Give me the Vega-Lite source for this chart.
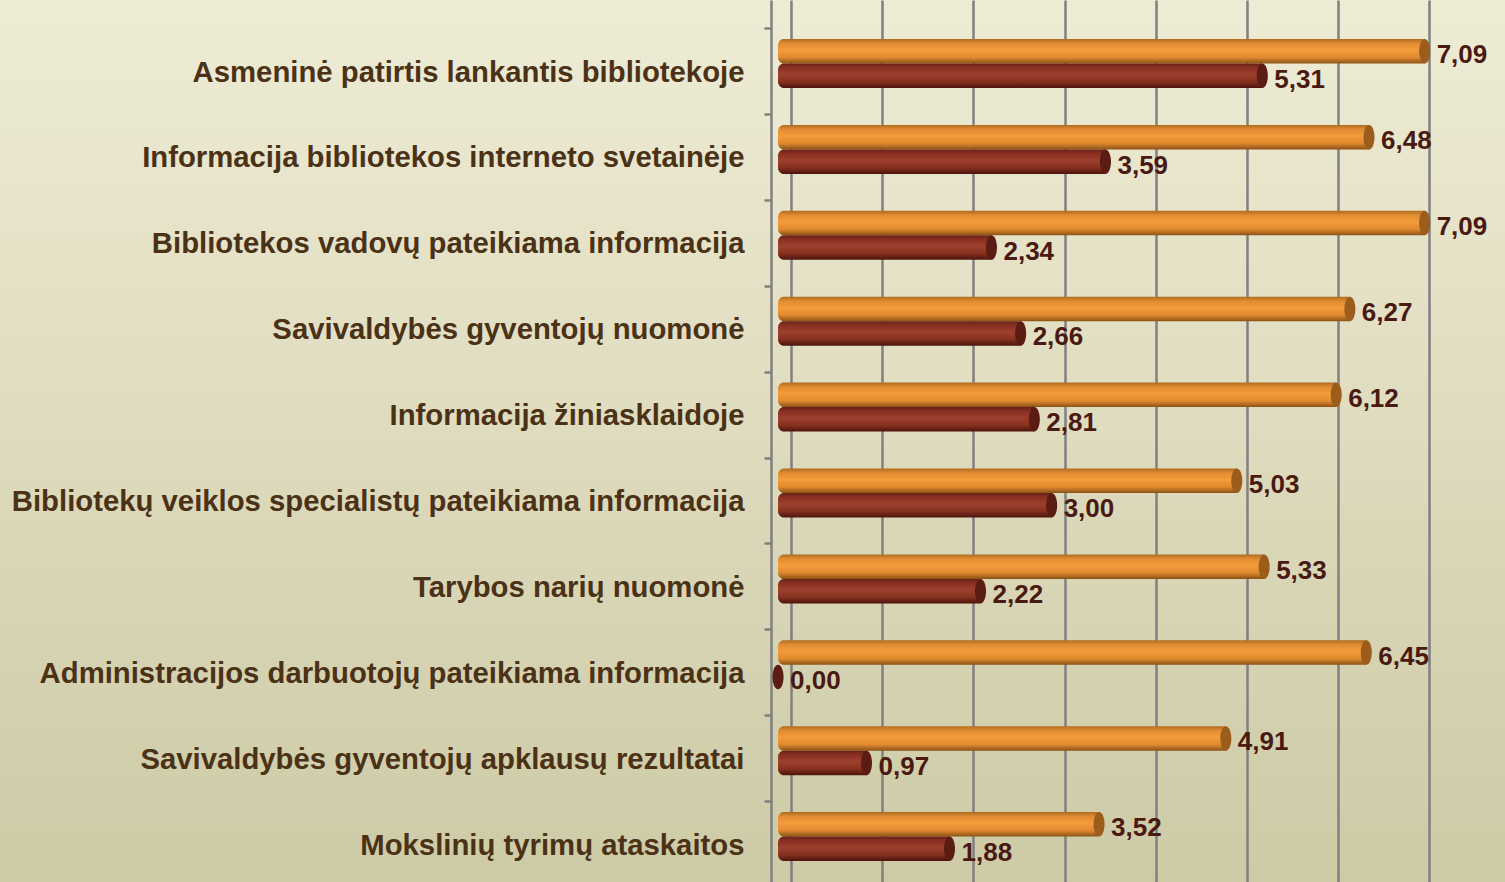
{
  "$schema": "https://vega.github.io/schema/vega-lite/v6.json",
  "width": 1505,
  "height": 882,
  "autosize": {"type": "none"},
  "padding": 0,
  "background": "#dedbbd",
  "data": {"values": [
    {"cat": "Asmeninė patirtis lankantis bibliotekoje", "s": "s1", "v": 7.09},
    {"cat": "Asmeninė patirtis lankantis bibliotekoje", "s": "s2", "v": 5.31},
    {"cat": "Informacija bibliotekos interneto svetainėje", "s": "s1", "v": 6.48},
    {"cat": "Informacija bibliotekos interneto svetainėje", "s": "s2", "v": 3.59},
    {"cat": "Bibliotekos vadovų pateikiama informacija", "s": "s1", "v": 7.09},
    {"cat": "Bibliotekos vadovų pateikiama informacija", "s": "s2", "v": 2.34},
    {"cat": "Savivaldybės gyventojų nuomonė", "s": "s1", "v": 6.27},
    {"cat": "Savivaldybės gyventojų nuomonė", "s": "s2", "v": 2.66},
    {"cat": "Informacija žiniasklaidoje", "s": "s1", "v": 6.12},
    {"cat": "Informacija žiniasklaidoje", "s": "s2", "v": 2.81},
    {"cat": "Bibliotekų veiklos specialistų pateikiama informacija", "s": "s1", "v": 5.03},
    {"cat": "Bibliotekų veiklos specialistų pateikiama informacija", "s": "s2", "v": 3.00},
    {"cat": "Tarybos narių nuomonė", "s": "s1", "v": 5.33},
    {"cat": "Tarybos narių nuomonė", "s": "s2", "v": 2.22},
    {"cat": "Administracijos darbuotojų pateikiama informacija", "s": "s1", "v": 6.45},
    {"cat": "Administracijos darbuotojų pateikiama informacija", "s": "s2", "v": 0.00},
    {"cat": "Savivaldybės gyventojų apklausų rezultatai", "s": "s1", "v": 4.91},
    {"cat": "Savivaldybės gyventojų apklausų rezultatai", "s": "s2", "v": 0.97},
    {"cat": "Mokslinių tyrimų ataskaitos\u2002", "s": "s1", "v": 3.52},
    {"cat": "Mokslinių tyrimų ataskaitos\u2002", "s": "s2", "v": 1.88}
  ]},
  "encoding": {
    "y": {
      "field": "cat", "type": "nominal", "sort": null,
      "scale": {"paddingInner": 0.43, "paddingOuter": 0.349, "align": 0.651},
      "axis": {
        "title": null, "orient": "left", "offset": -771,
        "domainColor": "#808080", "domainWidth": 2.5,
        "tickColor": "#808080", "tickWidth": 2.5, "tickSize": 7, "tickOffset": -35.5,
        "labelOffset": 44, "labelPadding": 20, "labelLimit": 900,
        "labelFont": "Liberation Sans", "labelFontWeight": "bold", "labelFontSize": 29.3, "labelColor": "#4b3216"
      }
    },
    "yOffset": {"field": "s", "type": "nominal", "scale": {"domain": ["s1", "s2"], "paddingInner": 0, "paddingOuter": 0}},
    "x": {
      "field": "v", "type": "quantitative",
      "scale": {"domain": [-8.531, 7.971], "nice": false, "zero": false},
      "axis": {
        "values": [0, 1, 2, 3, 4, 5, 6, 7], "grid": true, "labels": false, "ticks": false, "domain": false,
        "gridColor": "#808080", "gridWidth": 2.5, "tickOffset": 13, "title": null
      }
    }
  },
  "layer": [
    {
      "transform": [{"filter": "datum.s == 's1'"}],
      "mark": {
        "type": "bar", "cornerRadiusTopLeft": 6, "cornerRadiusBottomLeft": 6,
        "fill": {"gradient": "linear", "x1": 0, "y1": 0, "x2": 0, "y2": 1, "stops": [
          {"offset": 0, "color": "#b06c1e"},
          {"offset": 0.18, "color": "#e08c33"},
          {"offset": 0.45, "color": "#f39c3c"},
          {"offset": 0.75, "color": "#e08a30"},
          {"offset": 1, "color": "#8a5214"}
        ]}
      },
      "encoding": {"x2": {"datum": 0}}
    },
    {
      "transform": [{"filter": "datum.s == 's2'"}],
      "mark": {
        "type": "bar", "cornerRadiusTopLeft": 6, "cornerRadiusBottomLeft": 6,
        "fill": {"gradient": "linear", "x1": 0, "y1": 0, "x2": 0, "y2": 1, "stops": [
          {"offset": 0, "color": "#6a2117"},
          {"offset": 0.18, "color": "#8a3023"},
          {"offset": 0.45, "color": "#9d402d"},
          {"offset": 0.75, "color": "#85301f"},
          {"offset": 1, "color": "#4c140d"}
        ]}
      },
      "encoding": {"x2": {"datum": 0}}
    },
    {
      "mark": {"type": "point", "filled": true, "opacity": 1, "size": 600,
        "shape": "M0,-1A0.45,1,0,1,1,0,1A0.45,1,0,1,1,0,-1Z"},
      "encoding": {
        "color": {"field": "s", "type": "nominal", "legend": null,
          "scale": {"domain": ["s1", "s2"], "range": ["#9c5c1b", "#5a1c13"]}}
      }
    },
    {
      "mark": {"type": "text", "align": "left", "baseline": "middle", "dx": 12, "dy": 4,
        "font": "Liberation Sans", "fontWeight": "bold", "fontSize": 26, "color": "#4a1a12"},
      "encoding": {"text": {"field": "v", "type": "quantitative", "format": ".2f"}}
    }
  ],
  "config": {
    "locale": {"number": {"decimal": ",", "thousands": ".", "grouping": [3], "currency": ["", ""]}},
    "view": {
      "stroke": null,
      "fill": {"gradient": "linear", "x1": 0, "y1": 0, "x2": 0, "y2": 1, "stops": [
        {"offset": 0, "color": "#efecd6"},
        {"offset": 1, "color": "#cdcaa6"}
      ]}
    }
  }
}
